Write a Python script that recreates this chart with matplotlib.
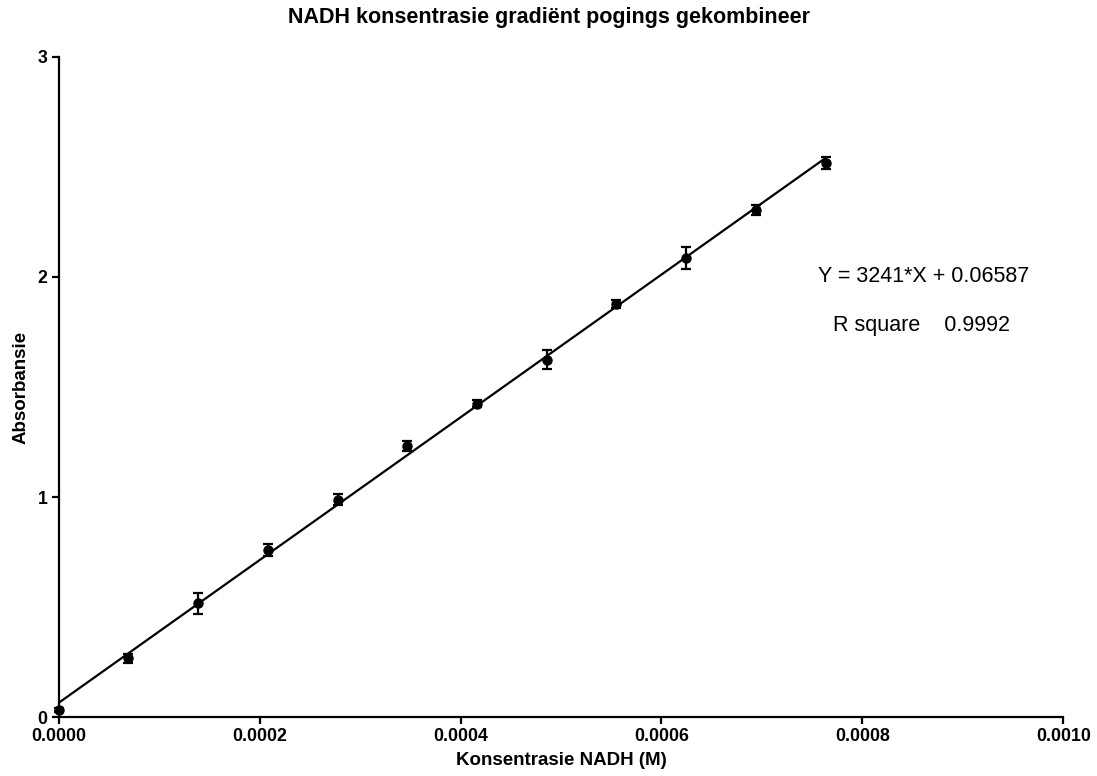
import numpy as np
import matplotlib.pyplot as plt

plt.rcParams['font.family'] = ['Liberation Sans', 'DejaVu Sans']

# NADH standard curve, combined runs
konsentrasie = [0.0, 0.0000694, 0.0001388, 0.0002082, 0.0002776, 0.000347,
                0.0004164, 0.0004858, 0.0005552, 0.0006246, 0.000694, 0.0007634]
absorbansie = [0.033, 0.268, 0.518, 0.760, 0.987, 1.233,
               1.425, 1.623, 1.877, 2.087, 2.304, 2.516]
fout = [0.008, 0.02, 0.047, 0.026, 0.025, 0.022,
        0.018, 0.043, 0.018, 0.049, 0.024, 0.028]

helling = 3241
afsnit = 0.06587
r_kwadraat = 0.9992

fig = plt.figure(figsize=(10.97, 7.76), dpi=100)
ax = fig.add_axes([0.0535, 0.0756, 0.9158, 0.8514])

xfit = np.array([konsentrasie[0], konsentrasie[-1]])
ax.plot(xfit, helling * xfit + afsnit, color='black', lw=1.6, zorder=2)
ax.errorbar(konsentrasie, absorbansie, yerr=fout, fmt='o', color='black',
            ms=6.5, elinewidth=1.6, capsize=3.5, capthick=1.6, zorder=3,
            clip_on=False)

ax.set_xlim(0, 0.001)
ax.set_ylim(0, 3)
ax.set_xticks([0, 0.0002, 0.0004, 0.0006, 0.0008, 0.0010])
ax.set_xticklabels(['0.0000', '0.0002', '0.0004', '0.0006', '0.0008', '0.0010'])
ax.set_yticks([0, 1, 2, 3])

for s in ['top', 'right']:
    ax.spines[s].set_visible(False)
for s in ['left', 'bottom']:
    ax.spines[s].set_linewidth(1.6)
ax.tick_params(direction='out', length=5, width=1.6, labelsize=12.8, pad=3)
for lbl in ax.get_xticklabels() + ax.get_yticklabels():
    lbl.set_fontweight('bold')

ax.set_xlabel('Konsentrasie NADH (M)', fontsize=13.5, fontweight='bold', labelpad=5)
ax.set_ylabel('Absorbansie', fontsize=13.5, fontweight='bold', labelpad=6)
fig.text(0.5, 1 - 18 / 776, 'NADH konsentrasie gradiënt pogings gekombineer',
         fontsize=15.5, fontweight='bold', ha='center', va='center')

ax.text(0.000756, 2.0, 'Y = %d*X + %.5f' % (helling, afsnit), fontsize=15.5,
        va='center', ha='left')
ax.text(0.000771, 1.78, 'R square    %.4f' % r_kwadraat, fontsize=15.5,
        va='center', ha='left')

fig.savefig('out.png', dpi=100)
